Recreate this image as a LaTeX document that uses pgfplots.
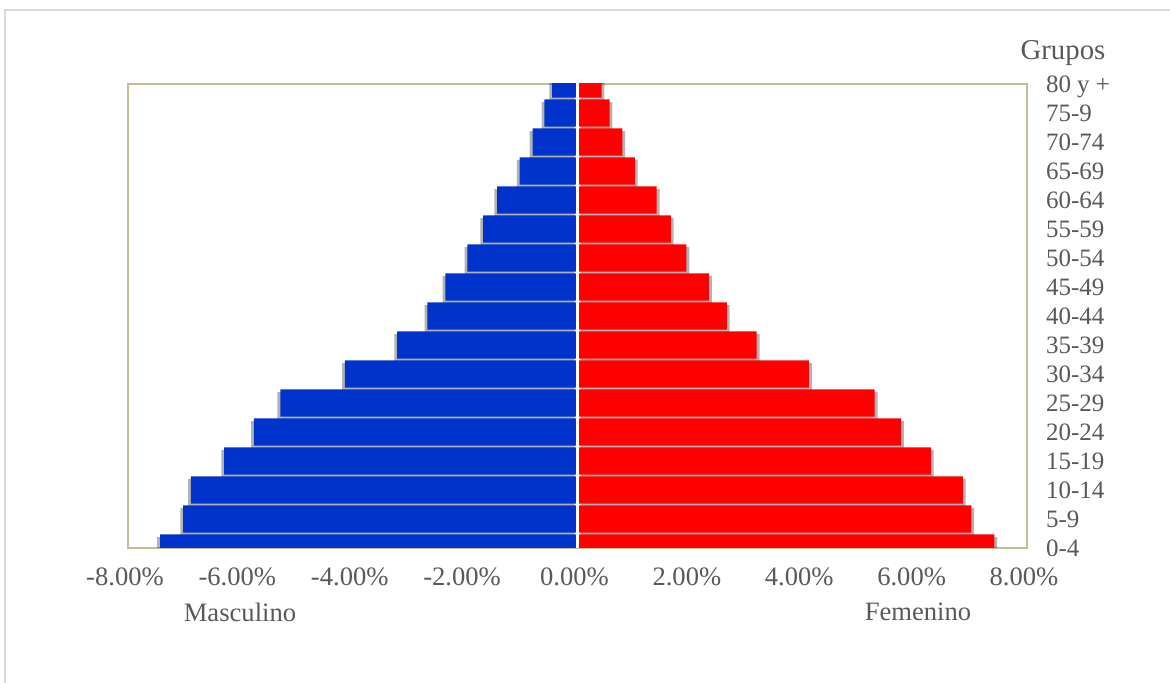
\documentclass[border=0pt]{standalone}
\usepackage{pgfplots}
\pgfplotsset{compat=1.18}
\usepackage{fontspec}
\setmainfont{Liberation Serif}
\usetikzlibrary{shadows}

\definecolor{barblue}{RGB}{0,51,204}
\definecolor{barred}{RGB}{255,0,0}
\definecolor{boxline}{RGB}{196,189,151}
\definecolor{txt}{RGB}{89,89,89}
\definecolor{outerline}{RGB}{217,217,217}

\begin{document}
\begin{tikzpicture}
\begin{axis}[
  width=449.5bp, height=232bp, scale only axis,
  bar width=0.94,
  xmin=-8, xmax=8, ymin=0, ymax=16,
  xtick={-8,-6,...,8},
  ytick={0,...,16},
  yticklabels={0-4,5-9,10-14,15-19,20-24,25-29,30-34,35-39,40-44,45-49,50-54,55-59,60-64,65-69,70-74,75-9,80 y +},
  yticklabel pos=right,
  axis line style={boxline, line width=1bp},
  major tick length=0pt,
  /pgf/number format/assume math mode=true,
  xticklabel={\pgfmathprintnumber[fixed,fixed zerofill,precision=2]{\tick}\%},
  xticklabel style={font=\fontsize{13.3bp}{16bp}\selectfont, text=txt, yshift=-6.5bp, xshift=-1.5bp},
  yticklabel style={font=\fontsize{12.5bp}{15bp}\selectfont, text=txt, anchor=base west, xshift=6bp, yshift=-4.4bp},
]
% Masculino
\addplot[xbar, fill=barblue, draw=none,
  drop shadow={shadow xshift=-1.4bp, shadow yshift=-1.4bp, opacity=0.3, fill=black}]
  coordinates {
  (-7.43,0) (-7.02,1) (-6.88,2) (-6.29,3) (-5.76,4) (-5.29,5) (-4.14,6)
  (-3.21,7) (-2.67,8) (-2.35,9) (-1.96,10) (-1.68,11) (-1.43,12)
  (-1.03,13) (-0.80,14) (-0.59,15) (-0.45,16)
};
% Femenino
\addplot[xbar, fill=barred, draw=none,
  drop shadow={shadow xshift=1.4bp, shadow yshift=-1.4bp, opacity=0.3, fill=black}]
  coordinates {
  (7.42,0) (7.01,1) (6.86,2) (6.29,3) (5.76,4) (5.29,5) (4.12,6)
  (3.19,7) (2.66,8) (2.34,9) (1.94,10) (1.66,11) (1.41,12)
  (1.02,13) (0.80,14) (0.57,15) (0.43,16)
};
\addplot[white, line width=1.2bp, forget plot] coordinates {(0,-1) (0,17)};
\end{axis}
\node[text=txt, font=\fontsize{14.4bp}{17bp}\selectfont] at (467.5bp,247.5bp) {Grupos};
\node[text=txt, font=\fontsize{13.3bp}{16bp}\selectfont] at (56bp,-32bp) {Masculino};
\node[text=txt, font=\fontsize{13.3bp}{16bp}\selectfont] at (395bp,-32bp) {Femenino};
\pgfresetboundingbox
\path[use as bounding box] (-64bp,-67.5bp) rectangle (521bp,274bp);
\draw[outerline, line width=1bp] (-61.5bp,-90bp) rectangle (540bp,269bp);
\end{tikzpicture}
\end{document}
